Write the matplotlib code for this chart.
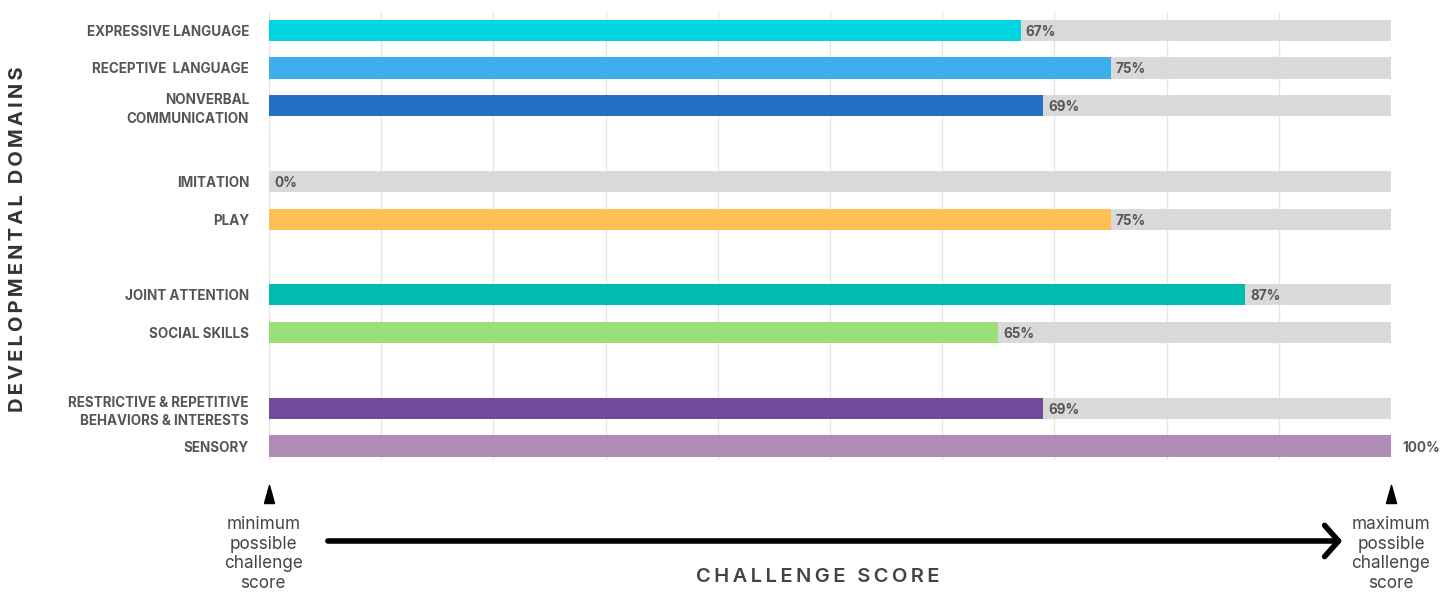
import numpy as np
import matplotlib
matplotlib.use("Agg")
import matplotlib.pyplot as plt
import matplotlib.transforms as mtransforms

plt.rcParams['font.family'] = ['Inter', 'DejaVu Sans']

# Data
domains = ["EXPRESSIVE LANGUAGE", "RECEPTIVE  LANGUAGE", "NONVERBAL\nCOMMUNICATION",
           "IMITATION", "PLAY",
           "JOINT ATTENTION", "SOCIAL SKILLS",
           "RESTRICTIVE & REPETITIVE\nBEHAVIORS & INTERESTS", "SENSORY"]
scores = [67, 75, 69, 0, 75, 87, 65, 69, 100]
rows = [0, 1, 2, 4, 5, 7, 8, 10, 11]
colors = ["#00D4DF", "#3FAEED", "#2470C4", "#D9D9D9", "#FDBF56",
          "#00BBB0", "#9BDF78", "#714A9C", "#B08BB8"]
max_score = 100


def spaced(s):
    # fake letter spacing with thin spaces
    return "\u2009".join(s)


fig = plt.figure(figsize=(14.55, 5.92), dpi=100)
ax = fig.add_axes([269/1455, 1 - 460/592, (1391-269)/1455, (460-12)/592])

# background bars and score bars
ax.barh(rows, [max_score]*len(rows), height=0.56, color="#D9D9D9", zorder=2)
ax.barh(rows, scores, height=0.56, color=colors, zorder=3)

for r, s in zip(rows, scores):
    ax.text(s + 0.45 if s < max_score else s + 1.0, r + 0.04, f"{s}%",
            va="center", ha="left", fontsize=9.7,
            fontweight="bold", color="#555555", zorder=4)

ax.set_xlim(0, max_score)
ax.set_ylim(11.37, -0.48)
ax.set_xticks(np.arange(0, 101, 10))
ax.set_xticklabels([])
ax.tick_params(axis="x", length=0)
ax.grid(axis="x", color="#E6E6E6", lw=1, zorder=0)
ax.set_yticks(rows)
ax.set_yticklabels(domains, fontsize=9.7, fontweight="bold", color="#555555",
                   linespacing=1.4)
ax.tick_params(axis="y", length=0, pad=14.4)
for sp in ax.spines.values():
    sp.set_visible(False)

fig.text(18/1455, 1 - 239/592, spaced("DEVELOPMENTAL DOMAINS"), rotation=90,
         ha="center", va="center", fontsize=14.5, fontweight="bold", color="#333333")

# bottom annotation
tr = mtransforms.blended_transform_factory(ax.transData, fig.transFigure)
tri = [(-0.28, -0.5), (0.28, -0.5), (0, 0.5), (-0.28, -0.5)]
ax.plot([0, max_score], [1 - 494/592]*2, linestyle="none", marker=tri,
        markersize=13, color="black", transform=tr, clip_on=False)
ax.annotate("", xy=(95.9, 1 - 541/592), xytext=(5.0, 1 - 541/592),
            xycoords=tr, textcoords=tr,
            arrowprops=dict(arrowstyle="->,head_length=0.4,head_width=0.45",
                            lw=4, color="black", mutation_scale=25))
ax.text(-0.5, 1 - 554/592, "minimum\npossible\nchallenge\nscore", transform=tr,
        ha="center", va="center", fontsize=12.3, color="#444444", linespacing=1.18)
ax.text(100.0, 1 - 554/592, "maximum\npossible\nchallenge\nscore", transform=tr,
        ha="center", va="center", fontsize=12.3, color="#444444", linespacing=1.18)
fig.text(818/1455, 1 - 577/592, spaced("CHALLENGE SCORE"), ha="center", va="center",
         fontsize=14.5, fontweight="semibold", color="#444444")

fig.savefig("out.png", dpi=100)
